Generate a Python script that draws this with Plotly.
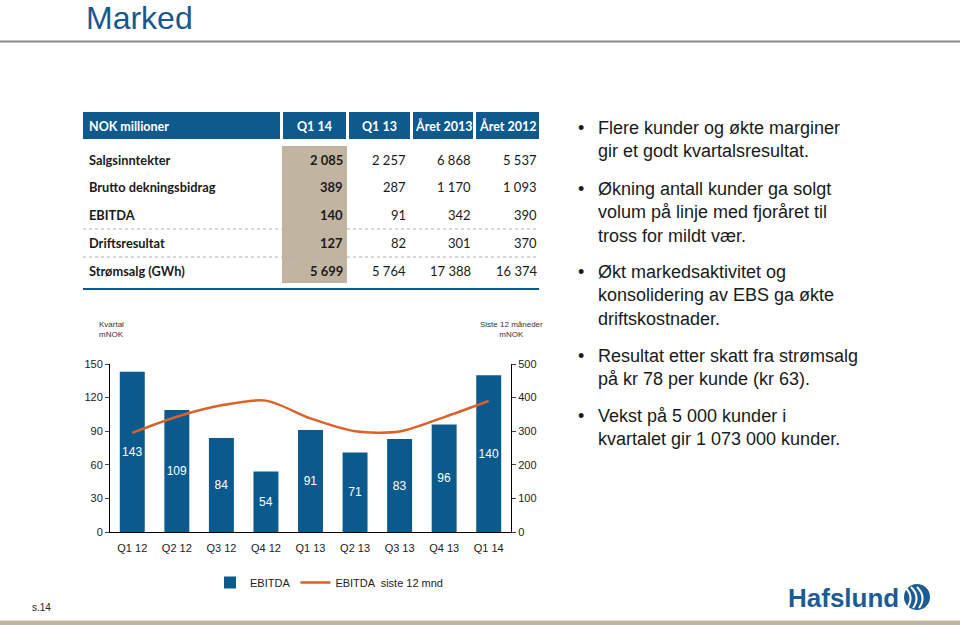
import plotly.graph_objects as go

W, H = 960, 625

# ---------------- data ----------------
quarters = ["Q1 12", "Q2 12", "Q3 12", "Q4 12", "Q1 13", "Q2 13", "Q3 13", "Q4 13", "Q1 14"]
ebitda = [143, 109, 84, 54, 91, 71, 83, 96, 140]
ebitda_ltm = [295, 343, 377, 391, 338, 300, 299, 342, 390]

table_header = ["NOK millioner", "Q1 14", "Q1 13", "Året 2013", "Året 2012"]
table_labels = ["Salgsinntekter", "Brutto dekningsbidrag", "EBITDA", "Driftsresultat", "Strømsalg (GWh)"]
col_q1_14 = ["2 085", "389", "140", "127", "5 699"]
col_q1_13 = ["2 257", "287", "91", "82", "5 764"]
col_2013 = ["6 868", "1 170", "342", "301", "17 388"]
col_2012 = ["5 537", "1 093", "390", "370", "16 374"]

bullets = [
    "Flere kunder og økte marginer<br>gir et godt kvartalsresultat.",
    "Økning antall kunder ga solgt<br>volum på linje med fjoråret til<br>tross for mildt vær.",
    "Økt markedsaktivitet og<br>konsolidering av EBS ga økte<br>driftskostnader.",
    "Resultat etter skatt fra strømsalg<br>på kr 78 per kunde (kr 63).",
    "Vekst på 5 000 kunder i<br>kvartalet gir 1 073 000 kunder.",
]

# ---------------- style ----------------
BLUE = "#0b5a8e"
ORANGE = "#d9622b"
BEIGE = "#c1b5a2"
CHART_FONT = "Liberation Sans, Arial, sans-serif"
TABLE_FONT = "Lato, Open Sans, sans-serif"


def X(px):
    return px / W


def Y(py):
    return 1 - py / H


fig = go.Figure()

fig.add_trace(go.Bar(
    x=quarters, y=ebitda, name="EBITDA",
    marker=dict(color=BLUE, line=dict(width=0)),
    text=[str(v) for v in ebitda], textposition="inside",
    insidetextanchor="middle", textangle=0, constraintext="none",
    textfont=dict(color="white", size=12, family=CHART_FONT),
    xaxis="x", yaxis="y",
))
fig.add_trace(go.Scatter(
    x=quarters, y=ebitda_ltm, name="EBITDA  siste 12 mnd",
    mode="lines", line=dict(color=ORANGE, width=2.5, shape="spline", smoothing=0.8),
    xaxis="x", yaxis="y2",
))

shapes = []
annotations = []

# title + rule
annotations.append(dict(x=X(84), y=Y(18), xref="paper", yref="paper", xanchor="left", yanchor="middle",
                        text="Marked", showarrow=False,
                        font=dict(family=CHART_FONT, size=32, color="#17598c")))
shapes.append(dict(type="line", xref="paper", yref="paper", x0=0, x1=1, y0=Y(41.5), y1=Y(41.5),
                   line=dict(color="#8a8a8a", width=2)))

# ---------------- table ----------------
hdr_cells = [(83, 280), (283, 346), (349, 410), (413, 473), (476, 539)]
for i, (a, b) in enumerate(hdr_cells):
    shapes.append(dict(type="rect", xref="paper", yref="paper", x0=X(a), x1=X(b), y0=Y(139), y1=Y(112),
                       fillcolor="#0f5a8c", line=dict(width=0), layer="below"))
    if i == 0:
        annotations.append(dict(x=X(87), y=Y(126), xref="paper", yref="paper", xanchor="left", yanchor="middle",
                                text="<b>%s</b>" % table_header[i], showarrow=False,
                                font=dict(family=TABLE_FONT, size=12.5, color="white")))
    else:
        annotations.append(dict(x=X((a + b) / 2), y=Y(126), xref="paper", yref="paper", xanchor="center",
                                yanchor="middle", text="<b>%s</b>" % table_header[i], showarrow=False,
                                font=dict(family=TABLE_FONT, size=12.5, color="white")))
# highlight column
shapes.append(dict(type="rect", xref="paper", yref="paper", x0=X(282), x1=X(347), y0=Y(283), y1=Y(146),
                   fillcolor=BEIGE, line=dict(width=0), layer="below"))
# dotted separators
for yy in (229, 257):
    shapes.append(dict(type="line", xref="paper", yref="paper", x0=X(83), x1=X(539), y0=Y(yy), y1=Y(yy),
                       line=dict(color="#b0b0b0", width=1, dash="dot")))
# bottom rule
shapes.append(dict(type="line", xref="paper", yref="paper", x0=X(83), x1=X(539), y0=Y(289), y1=Y(289),
                   line=dict(color="#0f5a8c", width=2)))

row_y = [160, 187, 215, 243, 271]
col_right = [345, 408, 473, 539]
cols = [col_q1_14, col_q1_13, col_2013, col_2012]
for r, lab in enumerate(table_labels):
    annotations.append(dict(x=X(87), y=Y(row_y[r]), xref="paper", yref="paper", xanchor="left", yanchor="middle",
                            text="<b>%s</b>" % lab, showarrow=False,
                            font=dict(family=TABLE_FONT, size=12.8, color="#1a1a1a")))
    for c, col in enumerate(cols):
        txt = "<b>%s</b>" % col[r] if c == 0 else col[r]
        annotations.append(dict(x=X(col_right[c]), y=Y(row_y[r]), xref="paper", yref="paper", xanchor="right",
                                yanchor="middle", text=txt, showarrow=False,
                                font=dict(family=TABLE_FONT, size=13, color="#1a1a1a")))

# ---------------- chart axis captions ----------------
annotations.append(dict(x=X(97), y=Y(329), xref="paper", yref="paper", xanchor="left", yanchor="middle",
                        text="Kvartal<br>mNOK", showarrow=False, align="left",
                        font=dict(family=CHART_FONT, size=8, color="#333333")))
annotations.append(dict(x=X(511), y=Y(329), xref="paper", yref="paper", xanchor="center", yanchor="middle",
                        text="Siste 12 måneder<br>mNOK", showarrow=False, align="center",
                        font=dict(family=CHART_FONT, size=8, color="#333333")))

# ---------------- bullets ----------------
bullet_y = [116, 177, 260, 344, 404]
for by, txt in zip(bullet_y, bullets):
    annotations.append(dict(x=X(576), y=Y(by), xref="paper", yref="paper", xanchor="left", yanchor="top",
                            text="•", showarrow=False,
                            font=dict(family=CHART_FONT, size=18, color="#1a1a1a")))
    annotations.append(dict(x=X(596), y=Y(by), xref="paper", yref="paper", xanchor="left", yanchor="top",
                            text=txt, showarrow=False, align="left",
                            font=dict(family=CHART_FONT, size=18, color="#1a1a1a")))

# ---------------- footer ----------------
shapes.append(dict(type="rect", xref="paper", yref="paper", x0=0, x1=1, y0=0, y1=Y(620.5),
                   fillcolor="#c2b59f", line=dict(width=0)))
annotations.append(dict(x=X(41), y=Y(607), xref="paper", yref="paper", xanchor="center", yanchor="middle",
                        text="s.14", showarrow=False,
                        font=dict(family=CHART_FONT, size=10, color="#222222")))
annotations.append(dict(x=X(901), y=Y(598), xref="paper", yref="paper", xanchor="right", yanchor="middle",
                        text="<b>Hafslund</b>", showarrow=False,
                        font=dict(family=CHART_FONT, size=26, color="#1b5c94")))
# logo circle
shapes.append(dict(type="circle", xref="paper", yref="paper", x0=X(904), x1=X(930), y0=Y(610), y1=Y(584),
                   fillcolor="#1b5c94", line=dict(width=0)))
for off in (-6, 0, 6):
    shapes.append(dict(type="path", xref="paper", yref="paper",
                       path="M %f %f Q %f %f %f %f" % (X(911 + off), Y(587), X(921 + off), Y(597),
                                                       X(913 + off), Y(608)),
                       line=dict(color="white", width=2)))

fig.update_layout(
    autosize=True,
    margin=dict(l=0, r=0, t=0, b=0, autoexpand=False),
    paper_bgcolor="white", plot_bgcolor="white",
    font=dict(family=CHART_FONT, size=11, color="#222222"),
    bargap=0.44,
    showlegend=True,
    legend=dict(orientation="h", x=X(210), y=Y(568), xanchor="left", yanchor="top",
                font=dict(family=CHART_FONT, size=11, color="#222222"),
                bgcolor="rgba(0,0,0,0)", itemwidth=30, tracegroupgap=0),
    xaxis=dict(domain=[X(110), X(511)], range=[-0.5, 8.5], showgrid=False, zeroline=False,
               showline=True, linecolor="black", linewidth=1, ticks="outside", ticklen=6,
               tickcolor="rgba(0,0,0,0)", tickfont=dict(size=11, color="#222222"), fixedrange=True),
    yaxis=dict(domain=[Y(532), Y(364)], range=[0, 150], dtick=30, showgrid=False, zeroline=False,
               showline=True, linecolor="black", linewidth=1, ticks="outside", ticklen=4,
               tickfont=dict(size=11, color="#222222"), anchor="x"),
    yaxis2=dict(domain=[Y(532), Y(364)], range=[0, 500], dtick=100, overlaying="y", side="right",
                showgrid=False, zeroline=False, showline=True, linecolor="black", linewidth=1,
                ticks="outside", ticklen=4, tickfont=dict(size=11, color="#222222"), anchor="x"),
    shapes=shapes,
    annotations=annotations,
)

fig.write_html(
    "out.html",
    default_width="100vw",
    default_height="100vh",
    config={"displayModeBar": False, "responsive": True},
    post_script="document.body.style.margin='0';document.body.style.overflow='hidden';"
                "window.dispatchEvent(new Event('resize'));",
)
